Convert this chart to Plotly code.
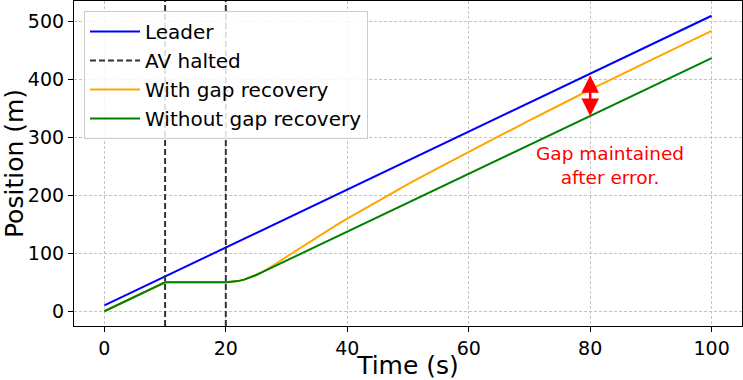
import plotly.graph_objects as go

# ---- data ----
leader_t = [0, 100]
leader_pos = [10, 510]

halt_times = [10, 20]

# common AV trajectory (before the two strategies diverge)
av_t = [0, 10, 20, 21, 22, 23, 24, 25]
av_pos = [0, 50, 50, 50.5, 52, 54.5, 58, 62.5]

without_t = [26, 100]
without_pos = [67.5, 437]

with_t = [26, 27, 28, 30, 32, 34, 36, 38, 40, 45, 50, 55, 60, 65, 70, 75, 80, 90, 100]
with_pos = [67.5, 73.5, 80.2, 94.0, 107.6, 121.0, 134.2, 147.2, 160.0, 190.5,
            219.5, 247.5, 275.0, 302.5, 329.5, 356.0, 382.5, 433.5, 484.0]

arrow_time = 80
annot_text = "Gap maintained<br>after error."
annot_time = 83.2
annot_pos = 252

x_range = [-5, 105]
y_range = [-25.5, 535.5]

FONT = "DejaVu Sans"

fig = go.Figure()

fig.add_trace(go.Scatter(x=leader_t, y=leader_pos, mode="lines", name="Leader",
                         line=dict(color="#0000ff", width=2)))

vx, vy = [], []
for h in halt_times:
    vx += [h, h, None]
    vy += [y_range[0], y_range[1], None]
fig.add_trace(go.Scatter(x=vx, y=vy, mode="lines", name="AV halted",
                         line=dict(color="#333333", width=2, dash="6px,3px")))

fig.add_trace(go.Scatter(x=av_t + with_t, y=av_pos + with_pos, mode="lines",
                         name="With gap recovery",
                         line=dict(color="#ffa500", width=2)))
fig.add_trace(go.Scatter(x=av_t + without_t, y=av_pos + without_pos, mode="lines",
                         name="Without gap recovery",
                         line=dict(color="#008000", width=2)))

# arrow between leader and "without" line at arrow_time
def interp(ts, vs, t):
    for i in range(len(ts) - 1):
        if ts[i] <= t <= ts[i + 1]:
            f = (t - ts[i]) / (ts[i + 1] - ts[i])
            return vs[i] + f * (vs[i + 1] - vs[i])
    return vs[-1]

top = interp(leader_t, leader_pos, arrow_time)
bot = interp(av_t + without_t, av_pos + without_pos, arrow_time)

fig.add_annotation(x=arrow_time, y=bot, ax=arrow_time, ay=top,
                   xref="x", yref="y", axref="x", ayref="y",
                   text="", showarrow=True, arrowhead=2, arrowside="end+start",
                   arrowsize=1.4, arrowwidth=2.5, arrowcolor="#ff0000",
                   standoff=0, startstandoff=0)
fig.add_annotation(x=annot_time, y=annot_pos, xref="x", yref="y",
                   text=annot_text, showarrow=False, align="center",
                   font=dict(family=FONT, size=18.5, color="#ff0000"))

axis_common = dict(showline=True, linecolor="black", linewidth=1.2, mirror=True,
                   ticks="outside", ticklen=5, tickwidth=1.2, tickcolor="black",
                   showgrid=True, gridcolor="#c4c4c4", gridwidth=0.8, griddash="3px,2px",
                   zeroline=False, automargin=False,
                   tickfont=dict(family=FONT, size=19, color="black"))

fig.update_xaxes(range=x_range, tickvals=[0, 20, 40, 60, 80, 100],
                 title=dict(text="Time (s)", font=dict(family=FONT, size=25, color="black"),
                            standoff=2),
                 **axis_common)
fig.update_yaxes(range=y_range, tickvals=[0, 100, 200, 300, 400, 500],
                 title=dict(text="Position (m)", font=dict(family=FONT, size=25, color="black"),
                            standoff=4),
                 **axis_common)

fig.update_layout(
    width=743, height=380,
    margin=dict(l=74, r=1, t=1, b=54),
    plot_bgcolor="white", paper_bgcolor="white",
    font=dict(family=FONT, color="black"),
    showlegend=True,
    legend=dict(x=0.015, y=0.969, xanchor="left", yanchor="top",
                itemwidth=50,
                bgcolor="rgba(255,255,255,0.85)", bordercolor="#cccccc", borderwidth=1,
                font=dict(family=FONT, size=20, color="black")),
)

fig.write_html("out.html", config={"displayModeBar": False},
               post_script="document.body.style.margin='0';document.body.style.padding='0';")
